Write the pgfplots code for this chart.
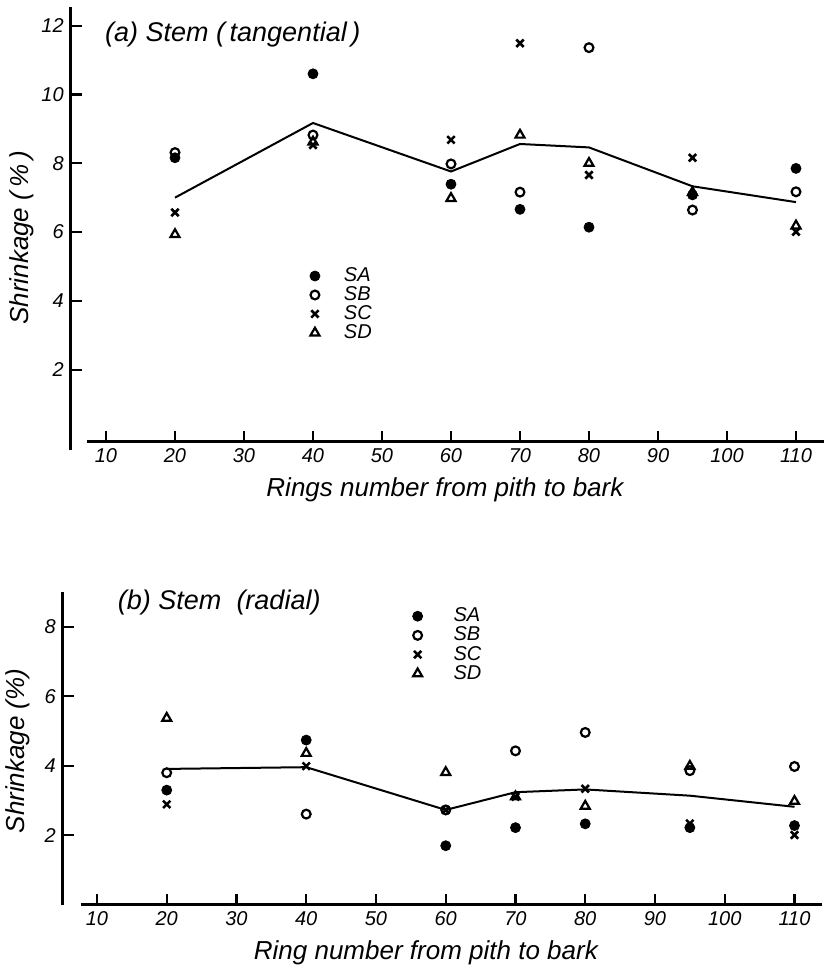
\documentclass[border=0pt]{standalone}
\usepackage{fontspec}
\setmainfont{Liberation Sans}
\usepackage{pgfplots}
\pgfplotsset{compat=1.18}
\usepackage{pgfplotstable}

\pgfplotstableread{
x SA SB SC SD M
20 8.16 8.31 6.57 5.93 7.00
40 10.60 8.82 8.53 8.62 9.17
60 7.39 7.98 8.68 6.98 7.76
70 6.66 7.16 11.49 8.82 8.56
80 6.14 11.36 7.66 8.00 8.46
95 7.08 6.64 8.16 7.15 7.33
110 7.85 7.17 6.01 6.18 6.87
}\tang

\pgfplotstableread{
x SA SB SC SD M
20 3.30 3.80 2.89 5.37 3.91
40 4.74 2.61 3.99 4.36 3.96
60 1.70 2.73 2.73 3.81 2.73
70 2.22 4.43 3.11 3.11 3.24
80 2.33 4.96 3.34 2.84 3.32
95 2.22 3.86 2.34 3.99 3.14
110 2.28 3.98 2.01 2.98 2.82
}\rad

\pgfplotsset{
 myax/.style={
  axis lines=left,
  axis line style={-, line width=1.4pt},
  tick align=inside,
  major tick length=5.5pt,
  major tick style={black, line width=1.1pt},
  xtick={10,20,...,110},
  ticklabel style={font=\itshape\fontsize{10}{12}\selectfont},
  /pgf/number format/assume math mode=true,
  label style={font=\itshape\fontsize{13}{15}\selectfont},
  clip=false,
  legend cell align=left,
 },
 sA/.style={only marks, mark=*, mark size=2.5pt, black},
 sB/.style={only marks, mark=o, mark size=2.2pt, black, mark options={line width=1.1pt}},
 sC/.style={only marks, mark=x, mark size=2.6pt, black, mark options={line width=1.3pt}},
 sD/.style={only marks, mark=triangle, mark size=2.6pt, black, mark options={line width=1.1pt}},
 mline/.style={black, line width=1pt, no marks, forget plot},
}

\begin{document}
\begin{tikzpicture}
\useasboundingbox (0,0) rectangle (412pt,486pt);

% (a) tangential
\begin{axis}[myax,
  at={(35.4pt,265.05pt)}, anchor=south west,
  x=3.45pt, y=17.2pt,
  xmin=4.9, xmax=114, ymin=-0.1, ymax=12.54,
  ytick={2,4,...,12},
  x axis line style={shorten <=8.25pt},
  y axis line style={shorten <=-4pt},
  xlabel={Rings number from pith to bark},
  ylabel={Shrinkage (\,\%\,)},
  xlabel style={at={(0.497,-0.11)}, anchor=center},
  ylabel style={at={(-0.0645,0.469)}, anchor=center},
  legend style={draw=none, fill=none, at={(axis cs:39.5,4.98)}, anchor=north west,
    inner sep=0pt, nodes={inner sep=0pt}, row sep=1pt,
    font=\itshape\fontsize{10}{12}\selectfont,
    /tikz/every odd column/.append style={column sep=12pt}},
]
\addplot[mline] table[x=x,y=M] {\tang};
\addplot[sA] table[x=x,y=SA] {\tang};
\addplot[sB] table[x=x,y=SB] {\tang};
\addplot[sC] table[x=x,y=SC] {\tang};
\addplot[sD] table[x=x,y=SD] {\tang};
\legend{SA,SB,SC,SD}
\node[anchor=west, font=\itshape\fontsize{13.5}{15}\selectfont] at (axis cs:8.86,11.73) {(a) Stem (\,tangential\,)};
\end{axis}

% (b) radial
\begin{axis}[myax,
  at={(31.4pt,33.6pt)}, anchor=south west,
  x=3.4875pt, y=17.375pt,
  xmin=5.1, xmax=114, ymin=0, ymax=9.0,
  ytick={2,4,...,8},
  x axis line style={shorten <=9pt},
  xlabel={Ring number from pith to bark},
  ylabel={Shrinkage (\%)},
  xlabel style={at={(0.478,-0.154)}, anchor=center},
  ylabel style={at={(-0.059,0.492)}, anchor=center},
  legend style={draw=none, fill=none, at={(axis cs:55.2,8.56)}, anchor=north west,
    inner sep=0pt, nodes={inner sep=0pt}, row sep=1.1pt,
    font=\itshape\fontsize{10}{12}\selectfont,
    /tikz/every odd column/.append style={column sep=15.5pt}},
]
\addplot[mline] table[x=x,y=M] {\rad};
\addplot[sA] table[x=x,y=SA] {\rad};
\addplot[sB] table[x=x,y=SB] {\rad};
\addplot[sC] table[x=x,y=SC] {\rad};
\addplot[sD] table[x=x,y=SD] {\rad};
\legend{SA,SB,SC,SD}
\node[anchor=west, font=\itshape\fontsize{13.5}{15}\selectfont] at (axis cs:12.0,8.71) {(b) Stem\ \ (radial)};
\end{axis}
\end{tikzpicture}
\end{document}
